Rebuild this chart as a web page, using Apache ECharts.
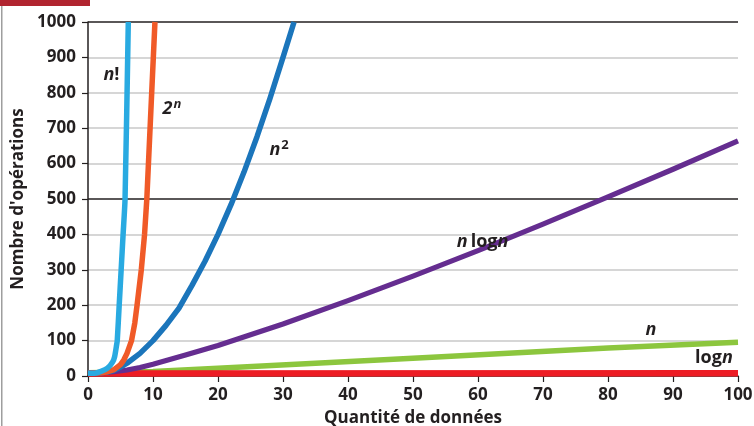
<!DOCTYPE html>
<html>
<head>
<meta charset="utf-8">
<script src="https://cdn.jsdelivr.net/npm/echarts@6/dist/echarts.min.js"></script>
<style>
html,body{margin:0;padding:0;background:#fff;}
#c{width:754px;height:426px;}
</style>
</head>
<body>
<div id="c"></div>
<script>
// ---- data ----
const xTicks = [0, 10, 20, 30, 40, 50, 60, 70, 80, 90, 100];
const yTicks = [0, 100, 200, 300, 400, 500, 600, 700, 800, 900, 1000];

const factX = [0, 1, 2, 3, 3.8, 4.1, 4.36, 4.5, 4.8, 5.1, 5.4, 5.7, 6.2];
const factY = [8, 8, 13, 22, 40, 55, 83, 100, 200, 300, 400, 500, 1000];

const expX = [0, 2, 3, 4, 5, 5.5, 6, 6.7, 7.2, 7.55, 8.2, 8.7, 9.05, 10.3];
const expY = [8, 9, 12, 18, 32, 45, 64, 100, 150, 200, 300, 400, 500, 1000];

const sqX = [0, 2, 3, 4, 5, 6, 8, 10, 12, 14, 16, 18, 20, 22, 24, 26, 28, 30, 31.7];
const sqY = [8, 9, 11, 16, 25, 36, 64, 100, 143, 192, 256, 324, 400, 484, 576, 676, 784, 900, 1000];

const nlogX = [0, 2, 4, 6, 8, 10, 15, 20, 30, 40, 50, 60, 70, 80, 90, 100];
const nlogY = [8, 10, 12, 17, 24, 33, 59, 86, 147, 213, 282, 354, 429, 506, 584, 664];

const linX = [0, 10, 20, 50, 80, 100];
const linY = [9, 13, 22, 50, 79, 95];

const logX = [0, 100];
const logY = [7, 7.5];

const seriesNames = ['n', 'log n', 'n log n', 'n²', '2ⁿ', 'n!'];

function pairs(xs, ys) { return xs.map((x, i) => [x, ys[i]]); }

// ---- chart ----
const chart = echarts.init(document.getElementById('c'), null, {renderer: 'canvas'});
const ink = '#231f20';
const FONT = '"Open Sans", "Noto Sans", sans-serif';
const gridColors = ['#c8c8c8','#c8c8c8','#c8c8c8','#c8c8c8','#c8c8c8','#231f20','#c8c8c8','#c8c8c8','#c8c8c8','#c8c8c8','#231f20'];

const richBase = {
  i: {fontStyle: 'italic', fontWeight: 'bold', fontSize: 18, color: ink, fontFamily: FONT},
  b: {fontWeight: 'bold', fontSize: 18, color: ink, fontFamily: FONT},
  s: {fontStyle: 'italic', fontWeight: 'bold', fontSize: 13, color: ink, fontFamily: FONT, padding: [0, 0, 9, 1]},
  su: {fontWeight: 'bold', fontSize: 13, color: ink, fontFamily: FONT, padding: [0, 0, 9, 1]}
};

function tag(coord, text) {
  return {
    symbol: 'circle', symbolSize: 0, silent: true,
    label: {show: true, position: 'inside', formatter: text, rich: richBase},
    data: [{coord: coord}]
  };
}

function line(name, data, color, width, z, mp, smooth) {
  return {
    name: name, type: 'line', data: data, showSymbol: false, symbol: 'none',
    smooth: smooth || false, z: z, animation: false, silent: true,
    lineStyle: {color: color, width: width, cap: 'butt', join: 'round'},
    markPoint: mp
  };
}

const option = {
  animation: false,
  backgroundColor: '#ffffff',
  textStyle: {fontFamily: FONT},
  grid: {left: 88, right: 16, top: 22, bottom: 50, containLabel: false, outerBoundsMode: 'none'},
  xAxis: {
    type: 'value', min: 0, max: 100, interval: 10,
    name: 'Quantité de données', nameLocation: 'middle', nameGap: 34,
    nameTextStyle: {fontSize: 17, fontWeight: 'bold', color: ink, fontFamily: FONT},
    axisLine: {show: true, lineStyle: {color: ink, width: 1.5}},
    axisTick: {show: true, length: 6, lineStyle: {color: ink, width: 1.2}},
    axisLabel: {fontSize: 17, fontWeight: 'bold', color: ink, margin: 11, fontFamily: FONT,
      formatter: v => String(xTicks[Math.round(v / 10)])},
    splitLine: {show: false}
  },
  yAxis: {
    type: 'value', min: 0, max: 1000, interval: 100,
    name: "Nombre d'opérations", nameLocation: 'middle', nameGap: 51, nameRotate: 90,
    nameTextStyle: {fontSize: 17, fontWeight: 'bold', color: ink, fontFamily: FONT},
    axisLine: {show: true, lineStyle: {color: ink, width: 1.5}},
    axisTick: {show: true, length: 6, lineStyle: {color: ink, width: 1.2}},
    axisLabel: {fontSize: 17, fontWeight: 'bold', color: ink, margin: 12, fontFamily: FONT,
      formatter: v => String(yTicks[Math.round(v / 100)])},
    splitLine: {show: true, lineStyle: {color: gridColors, width: 1.5}}
  },
  graphic: [
    {type: 'rect', left: 0, top: 0, shape: {width: 90, height: 6}, style: {fill: '#b12530'}, silent: true},
    {type: 'rect', left: 1, top: 6, shape: {width: 1.5, height: 420}, style: {fill: '#9e9e9e'}, silent: true}
  ],
  series: [
    line(seriesNames[0], pairs(linX, linY), '#8cc63e', 5.5, 2, tag([86.6, 130], '{i|n}')),
    line(seriesNames[1], pairs(logX, logY), '#ed1c24', 6.5, 3, tag([96.3, 51], '{b|log}{i|n}')),
    line(seriesNames[2], pairs(nlogX, nlogY), '#652d90', 5.2, 4, tag([60.7, 379], '{i|n} {b|log}{i|n}')),
    line(seriesNames[3], pairs(sqX, sqY), '#1b75bb', 5.5, 5, tag([29.4, 640], '{i|n}{su|2}')),
    line(seriesNames[4], pairs(expX, expY), '#f05a28', 5.5, 6, tag([12.9, 755], '{i|2}{s|n}')),
    line(seriesNames[5], pairs(factX, factY), '#29aae1', 5.5, 7, tag([3.6, 852], '{i|n}{b|!}'), 0.2)
  ]
};
chart.setOption(option);
</script>
</body>
</html>
